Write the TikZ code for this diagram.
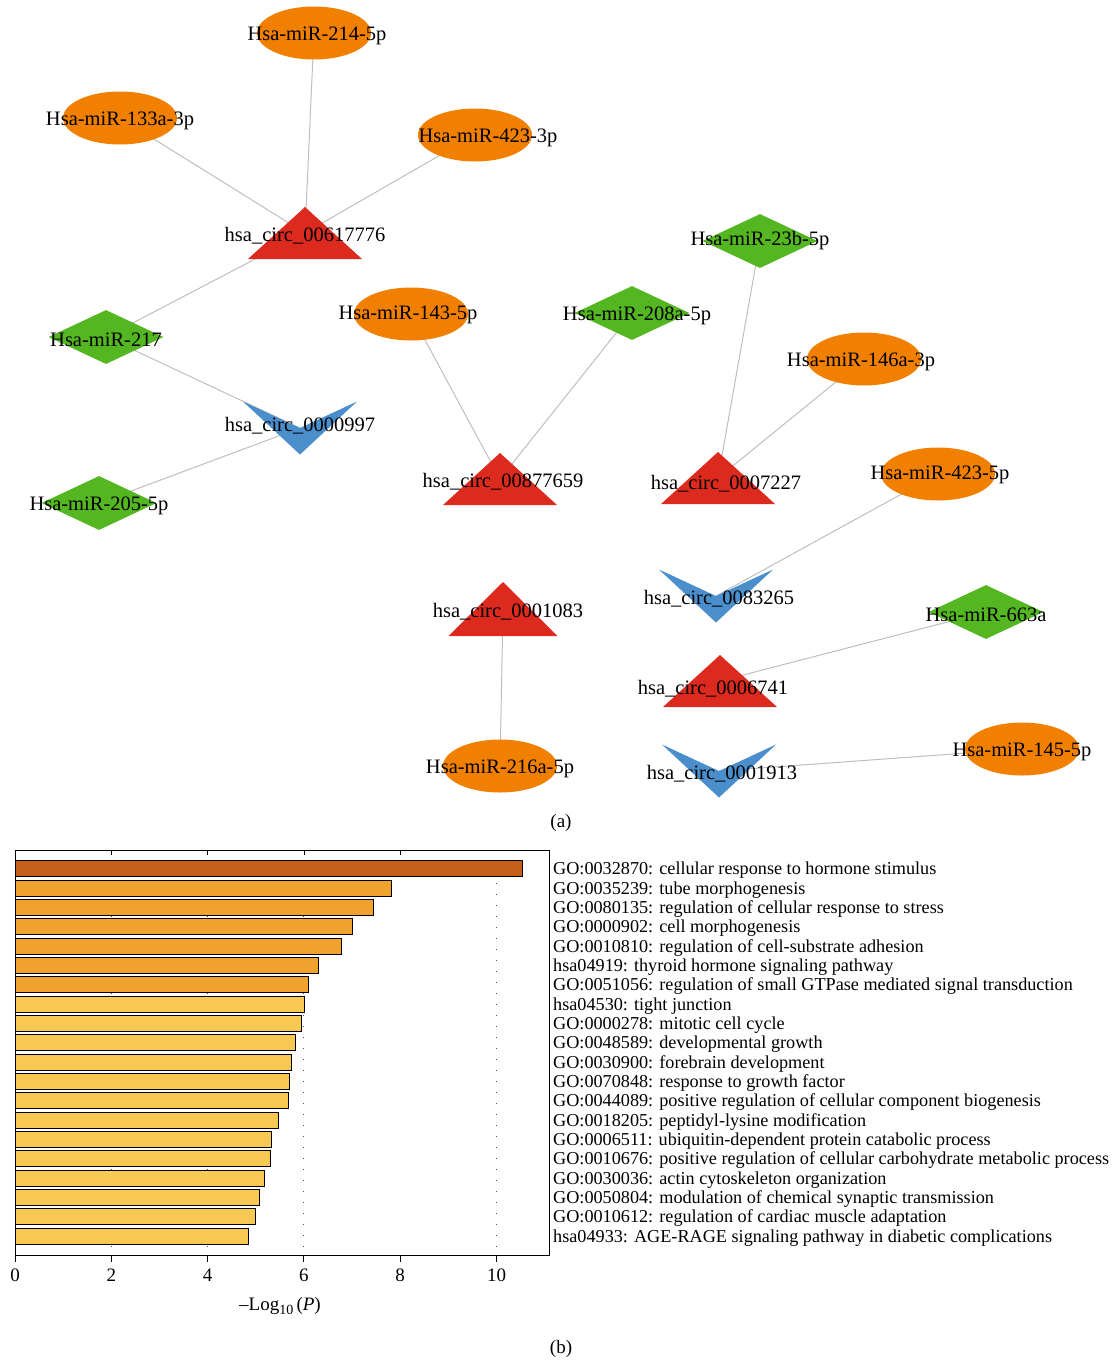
\documentclass[tikz,border=0pt]{standalone}
\usepackage{fontspec}
\setmainfont{Liberation Serif}
\usetikzlibrary{shapes.geometric,backgrounds}
\definecolor{mirorange}{RGB}{242,128,0}
\definecolor{mirgreen}{RGB}{84,182,32}
\definecolor{circred}{RGB}{220,42,30}
\definecolor{circblue}{RGB}{74,142,204}
\definecolor{edgegray}{RGB}{190,190,190}
\definecolor{barA}{RGB}{197,94,24}
\definecolor{barB}{RGB}{240,162,46}
\definecolor{barC}{RGB}{247,201,82}

\begin{document}
\begin{tikzpicture}[
  x=1pt, y=-1pt,
  font=\fontsize{20.5}{24}\selectfont,
  every label/.style={inner sep=0pt, yshift=-3pt},
  mirna/.style={ellipse, fill=mirorange, minimum width=114, minimum height=53, inner sep=0},
  mirdia/.style={diamond, fill=mirgreen, minimum width=115, minimum height=54, inner sep=0},
  upcirc/.style={minimum width=114, minimum height=52, inner sep=0,
    path picture={\fill[circred] (path picture bounding box.south west) -- (path picture bounding box.south east) -- (path picture bounding box.north) -- cycle;}},
  downcirc/.style={minimum width=114, minimum height=53, inner sep=0,
    path picture={\fill[circblue] (path picture bounding box.north west) -- (path picture bounding box.south) -- (path picture bounding box.north east) -- (path picture bounding box.center) -- cycle;}},
  edge/.style={edgegray, line width=1pt},
  golab/.style={anchor=west, inner sep=0, font=\fontsize{18.2}{20}\selectfont},
  axlab/.style={font=\fontsize{19}{22}\selectfont}
]
\useasboundingbox (0,0) rectangle (1116,1361);

% (a) network
\node[mirna, label={[xshift=3pt]center:Hsa-miR-214-5p}] (m214) at (314,33) {};
\node[mirna, label={center:Hsa-miR-133a-3p}] (m133a) at (120,118) {};
\node[mirna, label={[xshift=13pt]center:Hsa-miR-423-3p}] (m423a) at (475,135) {};
\node[mirna, label={[xshift=-3pt,yshift=2pt]center:Hsa-miR-143-5p}] (m143) at (411,314) {};
\node[mirna, label={[xshift=-3pt]center:Hsa-miR-146a-3p}] (m146a) at (864,359) {};
\node[mirna, label={[xshift=2pt,yshift=2pt]center:Hsa-miR-423-5p}] (m423b) at (938,474) {};
\node[mirna, label={center:Hsa-miR-216a-5p}] (m216a) at (500,766) {};
\node[mirna, label={center:Hsa-miR-145-5p}] (m145) at (1022,749) {};

\node[mirdia, label={[yshift=3pt]center:Hsa-miR-23b-5p}] (m23b) at (760,241) {};
\node[mirdia, label={center:Hsa-miR-217}] (m217) at (106,337) {};
\node[mirdia, label={[xshift=5pt]center:Hsa-miR-208a-5p}] (m208a) at (632,313) {};
\node[mirdia, label={center:Hsa-miR-205-5p}] (m205) at (99,503) {};
\node[mirdia, label={center:Hsa-miR-663a}] (m663a) at (986,612) {};

\node[upcirc, label={center:hsa\_circ\_00617776}] (c617776) at (305,233) {};
\node[upcirc, label={[xshift=3pt]center:hsa\_circ\_00877659}] (c877659) at (500,479) {};
\node[upcirc, label={[xshift=8pt,yshift=-3pt]center:hsa\_circ\_0007227}] (c7227) at (718,478) {};
\node[upcirc, minimum width=109, minimum height=54, label={[xshift=5pt]center:hsa\_circ\_0001083}] (c1083) at (503,609) {};
\node[upcirc, label={[xshift=-7pt,yshift=-5pt]center:hsa\_circ\_0006741}] (c6741) at (720,681) {};

\node[downcirc, label={[yshift=5pt]center:hsa\_circ\_0000997}] (c997) at (300,428) {};
\node[downcirc, label={[xshift=3pt]center:hsa\_circ\_0083265}] (c83265) at (716,596) {};
\node[downcirc, label={[xshift=3pt]center:hsa\_circ\_0001913}] (c1913) at (719,771) {};

\begin{scope}[on background layer]
\draw[edge] (m214.center) -- (c617776.center);
\draw[edge] (m133a.center) -- (c617776.center);
\draw[edge] (m423a.center) -- (c617776.center);
\draw[edge] (c617776.center) -- (m217.center);
\draw[edge] (m217.center) -- (c997.center);
\draw[edge] (c997.center) -- (m205.center);
\draw[edge] (m143.center) -- (c877659.center);
\draw[edge] (m208a.center) -- (c877659.center);
\draw[edge] (m23b.center) -- (c7227.center);
\draw[edge] (m146a.center) -- (c7227.center);
\draw[edge] (m423b.center) -- (c83265.center);
\draw[edge] (c1083.center) -- (m216a.center);
\draw[edge] (m663a.center) -- (c6741.center);
\draw[edge] (c1913.center) -- (m145.center);
\end{scope}

\node[axlab] (capa) at (561,823) {(a)};

% (b) enrichment bars
\foreach \g in {2,4,6,10}
  \draw[black!70, line width=0.9pt, dash pattern=on 1pt off 10pt] ({15+48.15*\g},850) -- ({15+48.15*\g},1255);
\foreach \v/\c/\t [count=\i from 0] in {
  10.54/barA/{GO:0032870: cellular response to hormone stimulus},
  7.81/barB/{GO:0035239: tube morphogenesis},
  7.45/barB/{GO:0080135: regulation of cellular response to stress},
  7.00/barB/{GO:0000902: cell morphogenesis},
  6.77/barB/{GO:0010810: regulation of cell-substrate adhesion},
  6.30/barB/{hsa04919: thyroid hormone signaling pathway},
  6.10/barB/{GO:0051056: regulation of small GTPase mediated signal transduction},
  6.02/barC/{hsa04530: tight junction},
  5.94/barC/{GO:0000278: mitotic cell cycle},
  5.83/barC/{GO:0048589: developmental growth},
  5.74/barC/{GO:0030900: forebrain development},
  5.69/barC/{GO:0070848: response to growth factor},
  5.68/barC/{GO:0044089: positive regulation of cellular component biogenesis},
  5.46/barC/{GO:0018205: peptidyl-lysine modification},
  5.32/barC/{GO:0006511: ubiquitin-dependent protein catabolic process},
  5.31/barC/{GO:0010676: positive regulation of cellular carbohydrate metabolic process},
  5.18/barC/{GO:0030036: actin cytoskeleton organization},
  5.08/barC/{GO:0050804: modulation of chemical synaptic transmission},
  5.00/barC/{GO:0010612: regulation of cardiac muscle adaptation},
  4.85/barC/{hsa04933: AGE-RAGE signaling pathway in diabetic complications}} {
  \draw[fill=\c, line width=0.8pt] (15,{860.7+19.33*\i}) rectangle ({15+48.15*\v},{876.7+19.33*\i});
  \node[golab] (go\i) at (553,{870.5+19.33*\i}) {\t};
}
\draw[line width=0.9pt] (15,850) rectangle (549,1255);
\foreach \g in {2,4,6,8}
  \draw[line width=0.8pt] ({15+48.15*\g},850) -- ({15+48.15*\g},855);
\foreach \g in {0,2,...,10} {
  \draw[line width=0.9pt] ({15+48.15*\g},1255) -- ({15+48.15*\g},1262);
  \node[axlab] (tk\g) at ({15+48.15*\g},1275) {\g};
}
\node[axlab] (xlab) at (280,1306) {–Log\raisebox{-0.45ex}{\fontsize{14}{14}\selectfont 10}\,(\textit{P})};
\node[axlab] (capb) at (561,1349) {(b)};
\end{tikzpicture}
\end{document}
